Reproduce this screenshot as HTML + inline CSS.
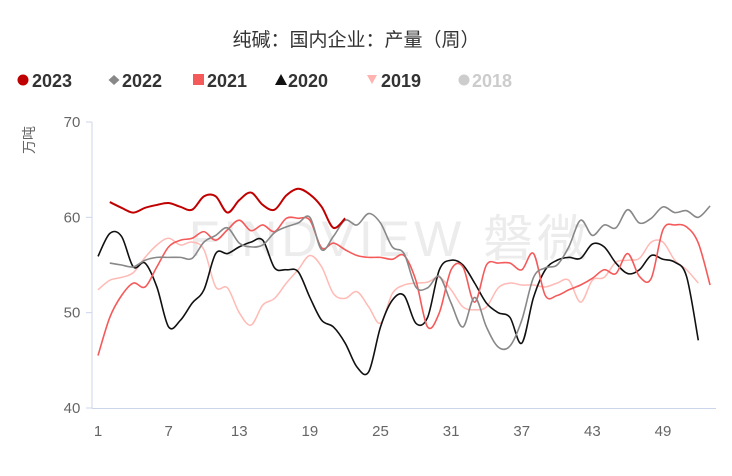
<!DOCTYPE html>
<html><head><meta charset="utf-8">
<style>
html,body{margin:0;padding:0;background:#fff;}
body{width:732px;height:471px;overflow:hidden;font-family:"Liberation Sans","Noto Sans CJK SC",sans-serif;}
svg text{font-family:"Liberation Sans","Noto Sans CJK SC",sans-serif;}
</style></head>
<body>
<svg id="chart" width="732" height="471">
  <text x="356" y="46" text-anchor="middle" font-size="19" fill="#333">纯碱：国内企业：产量（周）</text>
  <g font-size="18" font-weight="bold">
    <g><circle cx="23" cy="80" r="5.5" fill="#c00000"/><text x="32" y="87" fill="#333">2023</text></g>
    <g><path d="M114 75 L119.5 80 L114 85 L108.5 80Z" fill="#888"/><text x="122" y="87" fill="#333">2022</text></g>
    <g><rect x="193" y="74" width="11" height="11" fill="#f55a5a"/><text x="207" y="87" fill="#333">2021</text></g>
    <g><path d="M281 74 L287 85 L275 85Z" fill="#111"/><text x="288" y="87" fill="#333">2020</text></g>
    <g><path d="M367 75 L377 75 L372 84Z" fill="#ffb3b0"/><text x="381" y="87" fill="#333">2019</text></g>
    <g><circle cx="464" cy="80" r="5.5" fill="#ccc"/><text x="472" y="87" fill="#ccc">2018</text></g>
  </g>
  <text x="390" y="256" text-anchor="middle" font-size="50" fill="#ececec" letter-spacing="4">FINDVIEW 磐微</text>
  <text transform="translate(34,140) rotate(-90)" text-anchor="middle" font-size="14" fill="#666">万吨</text>
  <g id="axes"></g>
  <g id="series"></g>
</svg>
<script>
const weeks = Array.from({length:53},(_,i)=>i+1);
const yTicks = [40,50,60,70];
const xTickLabels = [1,7,13,19,25,31,37,43,49];
const s2023 = [null,61.6,61.0,60.5,61.0,61.3,61.5,61.1,60.8,62.2,62.2,60.5,61.8,62.6,61.3,60.8,62.3,63.0,62.4,61.1,58.9,59.9];
const s2022 = [null,55.2,55.0,54.8,55.5,55.8,55.8,55.8,55.7,57.4,58.1,58.9,57.3,56.9,57.1,58.4,59.0,59.4,60.0,56.6,58.0,59.7,59.2,60.4,59.4,56.9,56.2,52.7,52.6,53.8,51.0,48.5,51.6,48.5,46.4,46.5,49.2,53.7,54.7,55.0,56.9,59.7,58.1,59.2,58.9,60.8,59.4,59.9,61.1,60.5,60.7,60.0,61.2];
const s2021 = [45.5,49.5,51.8,53.1,52.7,54.8,56.9,57.6,57.8,58.5,57.6,58.7,59.7,58.6,59.2,58.5,59.9,59.9,59.7,56.8,57.3,56.6,56.0,55.8,55.8,55.6,56.0,53.4,48.5,50.0,54.5,54.8,51.1,55.0,55.2,55.2,54.5,56.2,51.8,51.8,52.4,52.9,53.6,54.5,54.1,56.2,53.8,53.6,58.7,59.2,59.0,57.3,52.9];
const s2020 = [55.9,58.3,58.0,54.8,55.2,52.7,48.5,49.2,51.0,52.4,56.2,56.2,56.9,57.4,57.6,54.7,54.5,54.3,51.6,49.2,48.5,46.8,44.3,43.8,48.5,51.3,51.8,48.9,49.5,54.5,55.5,55.0,53.1,51.0,50.0,49.5,46.8,51.6,54.5,55.5,55.8,55.7,57.2,56.9,55.2,54.1,54.5,56.0,55.6,55.3,53.8,47.1];
const s2019 = [52.4,53.4,53.7,54.2,55.8,57.1,57.8,57.1,57.4,56.6,52.7,52.6,50.0,48.7,50.8,51.5,53.1,54.5,56.0,54.8,52.0,51.5,52.2,50.6,48.9,52.0,52.9,53.1,53.2,53.7,52.4,50.6,50.3,50.6,52.6,53.1,52.9,52.9,52.7,53.1,53.4,51.1,53.4,53.7,55.3,55.5,55.7,57.4,57.4,55.5,54.5,53.1];

const NS='http://www.w3.org/2000/svg';
const X0=98, XW=(663-98)/48, Y0=408, YS=(408-122)/30;
const xs = w => X0+(w-1)*XW;
const ys = v => Y0-(v-40)*YS;
const axes=document.getElementById('axes');
function mk(tag,attrs,parent){const e=document.createElementNS(NS,tag);for(const k in attrs)e.setAttribute(k,attrs[k]);parent.appendChild(e);return e;}
const ya=mk('line',{x1:92,x2:92,y1:122,y2:408,stroke:'#ccd6eb'},axes);


const xa=mk('line',{x1:92,x2:716,y1:408.5,y2:408.5,stroke:'#ccd6eb'},axes);


yTicks.forEach(v=>{
  const t=mk('line',{x1:86,x2:92,y1:ys(v),y2:ys(v),stroke:'#ccd6eb'},axes);
  
  
  const l=mk('text',{x:72,y:ys(v)+5,'text-anchor':'middle','font-size':15,fill:'#666'},axes);
  l.textContent=v;
  
  
});
xTickLabels.forEach(w=>{
  const l=mk('text',{x:xs(w),y:436,'text-anchor':'middle','font-size':15,fill:'#666'},axes);
  l.textContent=w;
  
  
});
function pathFor(arr){
  const pts=[];arr.forEach((v,i)=>{if(v!=null)pts.push([xs(weeks[i]),ys(v)]);});
  let d='M'+pts[0][0]+' '+pts[0][1];
  for(let i=0;i<pts.length-1;i++){
    const p0=pts[Math.max(0,i-1)],p1=pts[i],p2=pts[i+1],p3=pts[Math.min(pts.length-1,i+2)];
    const c1x=p1[0]+(p2[0]-p0[0])/6,c1y=p1[1]+(p2[1]-p0[1])/6;
    const c2x=p2[0]-(p3[0]-p1[0])/6,c2y=p2[1]-(p3[1]-p1[1])/6;
    d+=` C${c1x} ${c1y} ${c2x} ${c2y} ${p2[0]} ${p2[1]}`;
  }
  return d;
}
const sg=document.getElementById('series');
const list=[[s2019,'#ffbab5',1.5,'line-2019'],[s2020,'#111',1.6,'line-2020'],[s2021,'#f55a5a',1.6,'line-2021'],[s2022,'#888',1.6,'line-2022'],[s2023,'#c00000',2,'line-2023']];
list.forEach(([arr,c,w,n])=>{
  const p=mk('path',{d:pathFor(arr),fill:'none',stroke:c,'stroke-width':w},sg);
  
  
});
</script>
</body></html>
